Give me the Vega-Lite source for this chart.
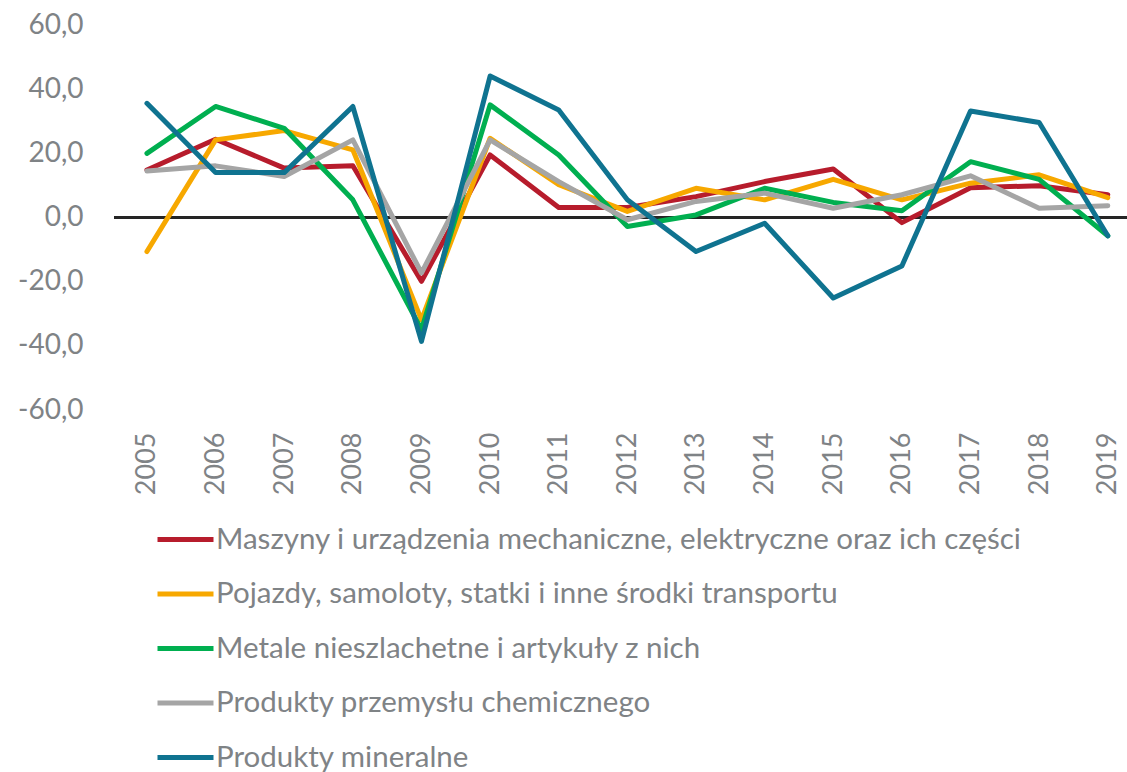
{
  "$schema": "https://vega.github.io/schema/vega-lite/v6.json",
  "width": 1013,
  "height": 385,
  "autosize": "none",
  "padding": {"left": 114, "top": 25, "right": 0, "bottom": 362},
  "background": "white",
  "config": {
    "view": {"stroke": null},
    "font": "Lato"
  },
  "data": {
    "values": [
      {"year": 2005, "series": "Maszyny i urządzenia mechaniczne, elektryczne oraz ich części", "value": 14.8},
      {"year": 2006, "series": "Maszyny i urządzenia mechaniczne, elektryczne oraz ich części", "value": 24.4},
      {"year": 2007, "series": "Maszyny i urządzenia mechaniczne, elektryczne oraz ich części", "value": 15.4},
      {"year": 2008, "series": "Maszyny i urządzenia mechaniczne, elektryczne oraz ich części", "value": 16.1},
      {"year": 2009, "series": "Maszyny i urządzenia mechaniczne, elektryczne oraz ich części", "value": -19.9},
      {"year": 2010, "series": "Maszyny i urządzenia mechaniczne, elektryczne oraz ich części", "value": 19.5},
      {"year": 2011, "series": "Maszyny i urządzenia mechaniczne, elektryczne oraz ich części", "value": 3.1},
      {"year": 2012, "series": "Maszyny i urządzenia mechaniczne, elektryczne oraz ich części", "value": 3.1},
      {"year": 2013, "series": "Maszyny i urządzenia mechaniczne, elektryczne oraz ich części", "value": 6.5},
      {"year": 2014, "series": "Maszyny i urządzenia mechaniczne, elektryczne oraz ich części", "value": 11.2},
      {"year": 2015, "series": "Maszyny i urządzenia mechaniczne, elektryczne oraz ich części", "value": 15.1},
      {"year": 2016, "series": "Maszyny i urządzenia mechaniczne, elektryczne oraz ich części", "value": -1.6},
      {"year": 2017, "series": "Maszyny i urządzenia mechaniczne, elektryczne oraz ich części", "value": 9.3},
      {"year": 2018, "series": "Maszyny i urządzenia mechaniczne, elektryczne oraz ich części", "value": 9.9},
      {"year": 2019, "series": "Maszyny i urządzenia mechaniczne, elektryczne oraz ich części", "value": 7.1},
      {"year": 2005, "series": "Pojazdy, samoloty, statki i inne środki transportu", "value": -10.6},
      {"year": 2006, "series": "Pojazdy, samoloty, statki i inne środki transportu", "value": 24.2},
      {"year": 2007, "series": "Pojazdy, samoloty, statki i inne środki transportu", "value": 27.1},
      {"year": 2008, "series": "Pojazdy, samoloty, statki i inne środki transportu", "value": 21.1},
      {"year": 2009, "series": "Pojazdy, samoloty, statki i inne środki transportu", "value": -31.9},
      {"year": 2010, "series": "Pojazdy, samoloty, statki i inne środki transportu", "value": 24.7},
      {"year": 2011, "series": "Pojazdy, samoloty, statki i inne środki transportu", "value": 10.2},
      {"year": 2012, "series": "Pojazdy, samoloty, statki i inne środki transportu", "value": 1.9},
      {"year": 2013, "series": "Pojazdy, samoloty, statki i inne środki transportu", "value": 9.1},
      {"year": 2014, "series": "Pojazdy, samoloty, statki i inne środki transportu", "value": 5.5},
      {"year": 2015, "series": "Pojazdy, samoloty, statki i inne środki transportu", "value": 11.9},
      {"year": 2016, "series": "Pojazdy, samoloty, statki i inne środki transportu", "value": 5.5},
      {"year": 2017, "series": "Pojazdy, samoloty, statki i inne środki transportu", "value": 10.7},
      {"year": 2018, "series": "Pojazdy, samoloty, statki i inne środki transportu", "value": 13.3},
      {"year": 2019, "series": "Pojazdy, samoloty, statki i inne środki transportu", "value": 6.2},
      {"year": 2005, "series": "Metale nieszlachetne i artykuły z nich", "value": 20.0},
      {"year": 2006, "series": "Metale nieszlachetne i artykuły z nich", "value": 34.6},
      {"year": 2007, "series": "Metale nieszlachetne i artykuły z nich", "value": 27.8},
      {"year": 2008, "series": "Metale nieszlachetne i artykuły z nich", "value": 5.5},
      {"year": 2009, "series": "Metale nieszlachetne i artykuły z nich", "value": -35.0},
      {"year": 2010, "series": "Metale nieszlachetne i artykuły z nich", "value": 35.1},
      {"year": 2011, "series": "Metale nieszlachetne i artykuły z nich", "value": 19.5},
      {"year": 2012, "series": "Metale nieszlachetne i artykuły z nich", "value": -2.8},
      {"year": 2013, "series": "Metale nieszlachetne i artykuły z nich", "value": 0.8},
      {"year": 2014, "series": "Metale nieszlachetne i artykuły z nich", "value": 9.1},
      {"year": 2015, "series": "Metale nieszlachetne i artykuły z nich", "value": 4.7},
      {"year": 2016, "series": "Metale nieszlachetne i artykuły z nich", "value": 2.1},
      {"year": 2017, "series": "Metale nieszlachetne i artykuły z nich", "value": 17.4},
      {"year": 2018, "series": "Metale nieszlachetne i artykuły z nich", "value": 11.9},
      {"year": 2019, "series": "Metale nieszlachetne i artykuły z nich", "value": -5.7},
      {"year": 2005, "series": "Produkty przemysłu chemicznego", "value": 14.5},
      {"year": 2006, "series": "Produkty przemysłu chemicznego", "value": 16.1},
      {"year": 2007, "series": "Produkty przemysłu chemicznego", "value": 12.8},
      {"year": 2008, "series": "Produkty przemysłu chemicznego", "value": 24.2},
      {"year": 2009, "series": "Produkty przemysłu chemicznego", "value": -17.3},
      {"year": 2010, "series": "Produkty przemysłu chemicznego", "value": 24.2},
      {"year": 2011, "series": "Produkty przemysłu chemicznego", "value": 11.2},
      {"year": 2012, "series": "Produkty przemysłu chemicznego", "value": -0.7},
      {"year": 2013, "series": "Produkty przemysłu chemicznego", "value": 5.0},
      {"year": 2014, "series": "Produkty przemysłu chemicznego", "value": 7.6},
      {"year": 2015, "series": "Produkty przemysłu chemicznego", "value": 2.9},
      {"year": 2016, "series": "Produkty przemysłu chemicznego", "value": 7.1},
      {"year": 2017, "series": "Produkty przemysłu chemicznego", "value": 13.0},
      {"year": 2018, "series": "Produkty przemysłu chemicznego", "value": 2.9},
      {"year": 2019, "series": "Produkty przemysłu chemicznego", "value": 3.7},
      {"year": 2005, "series": "Produkty mineralne", "value": 35.6},
      {"year": 2006, "series": "Produkty mineralne", "value": 14.0},
      {"year": 2007, "series": "Produkty mineralne", "value": 14.0},
      {"year": 2008, "series": "Produkty mineralne", "value": 34.6},
      {"year": 2009, "series": "Produkty mineralne", "value": -38.6},
      {"year": 2010, "series": "Produkty mineralne", "value": 44.1},
      {"year": 2011, "series": "Produkty mineralne", "value": 33.5},
      {"year": 2012, "series": "Produkty mineralne", "value": 5.5},
      {"year": 2013, "series": "Produkty mineralne", "value": -10.6},
      {"year": 2014, "series": "Produkty mineralne", "value": -1.8},
      {"year": 2015, "series": "Produkty mineralne", "value": -25.1},
      {"year": 2016, "series": "Produkty mineralne", "value": -15.1},
      {"year": 2017, "series": "Produkty mineralne", "value": 33.2},
      {"year": 2018, "series": "Produkty mineralne", "value": 29.6},
      {"year": 2019, "series": "Produkty mineralne", "value": -5.7}
    ]
  },
  "layer": [
    {
      "mark": {"type": "rule", "color": "#262626", "strokeWidth": 1.5},
      "encoding": {"y": {"datum": 0, "type": "quantitative", "scale": {"domain": [-60, 60]}}}
    },
    {
      "mark": {"type": "line", "strokeWidth": 5, "strokeCap": "round", "strokeJoin": "round"},
      "encoding": {
        "x": {
          "field": "year",
          "type": "quantitative",
          "scale": {"domain": [2004.52, 2019.28], "nice": false, "zero": false},
          "axis": {
            "title": null,
            "values": [2005, 2006, 2007, 2008, 2009, 2010, 2011, 2012, 2013, 2014, 2015, 2016, 2017, 2018, 2019],
            "format": "d",
            "labelAngle": 270,
            "labelAlign": "right",
            "labelBaseline": "middle",
            "labelPadding": 22,
            "labelFontSize": 27,
            "labelColor": "#7f8386",
            "labelFont": "Lato",
            "grid": false,
            "ticks": false,
            "domain": false,
            "labelOverlap": false
          }
        },
        "y": {
          "field": "value",
          "type": "quantitative",
          "scale": {"domain": [-60, 60], "nice": false},
          "axis": {
            "title": null,
            "values": [-60, -40, -20, 0, 20, 40, 60],
            "labelExpr": "replace(replace(format(datum.value, '.1f'), '.', ','), '\u2212', '-')",
            "labelPadding": 31,
            "labelFontSize": 28,
            "labelColor": "#7f8386",
            "labelFont": "Lato",
            "gridColor": "#d9d9d9",
            "gridWidth": 1.5,
            "ticks": false,
            "domain": false
          }
        },
        "color": {
          "field": "series",
          "type": "nominal",
          "sort": null,
          "scale": {
            "domain": [
              "Maszyny i urządzenia mechaniczne, elektryczne oraz ich części",
              "Pojazdy, samoloty, statki i inne środki transportu",
              "Metale nieszlachetne i artykuły z nich",
              "Produkty przemysłu chemicznego",
              "Produkty mineralne"
            ],
            "range": ["#b71c2c", "#f7a800", "#00af50", "#a5a5a5", "#0f7390"]
          },
          "legend": {
            "title": null,
            "orient": "none",
            "legendX": 41,
            "legendY": 484,
            "direction": "vertical",
            "padding": 0,
            "symbolType": "stroke",
            "symbolSize": 3136,
            "symbolStrokeWidth": 5,
            "labelFontSize": 29.5,
            "labelColor": "#7f8386",
            "labelFont": "Lato",
            "labelOffset": 0,
            "labelLimit": 1100,
            "rowPadding": 9.5
          }
        }
      }
    }
  ]
}
